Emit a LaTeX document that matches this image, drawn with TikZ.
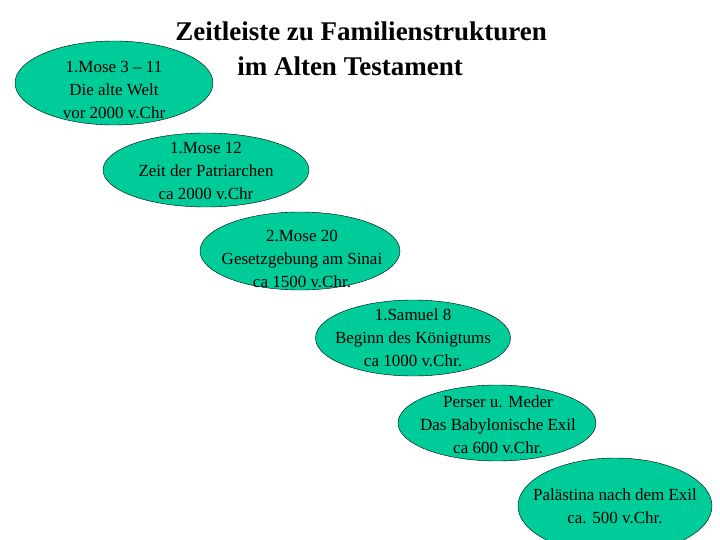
\documentclass[tikz,border=0pt]{standalone}
\usepackage{fontspec}
\setmainfont{Liberation Serif}
\usetikzlibrary{shapes.geometric}
\definecolor{eg}{RGB}{0,204,153}
\begin{document}
\begin{tikzpicture}[x=1pt,y=-1pt,
  ell/.style={ellipse,draw=black,fill=eg,inner sep=0pt,align=center,
    font=\fontsize{17}{23}\selectfont},
  ttl/.style={font=\fontsize{27}{33}\selectfont\bfseries,inner sep=0pt}]
\useasboundingbox[fill=white] (0,0) rectangle (720,540);
\node[ell,minimum width=198,minimum height=84] (e1) at (114,83) {};
\node[ell,minimum width=206,minimum height=74] (e2) at (206,170) {};
\node[ell,minimum width=200,minimum height=78] (e3) at (300,251) {};
\node[ell,minimum width=195,minimum height=76] (e4) at (413,338) {};
\node[ell,minimum width=198,minimum height=76] (e5) at (497,423) {};
\node[ell,minimum width=194,minimum height=96] (e6) at (615,506) {};
\node[ell,draw=none,fill=none] (t1) at (114,90) {1.Mose 3 – 11\\Die alte Welt\\vor 2000 v.Chr};
\node[ell,draw=none,fill=none] (t2) at (206,171) {1.Mose 12\\Zeit der Patriarchen\\ca 2000 v.Chr};
\node[ell,draw=none,fill=none] (t3) at (302,259) {2.Mose 20\\Gesetzgebung am Sinai\\ca 1500 v.Chr.};
\node[ell,draw=none,fill=none] (t4) at (413,338) {1.Samuel 8\\Beginn des Königtums\\ca 1000 v.Chr.};
\node[ell,draw=none,fill=none] (t5) at (498,425) {Perser u. Meder\\Das Babylonische Exil\\ca 600 v.Chr.};
\node[ell,draw=none,fill=none] (t6) at (615,506) {Palästina nach dem Exil\\ca. 500 v.Chr.};
\node[ttl] (h1) at (361,31) {Zeitleiste zu Familienstrukturen};
\node[ttl] (h2) at (350,66) {im Alten Testament};
\end{tikzpicture}
\end{document}
